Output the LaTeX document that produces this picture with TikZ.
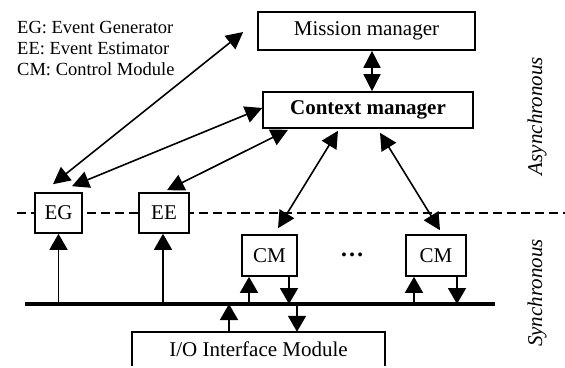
\documentclass[tikz,border=0pt]{standalone}
\usepackage{fontspec}
\setmainfont{Liberation Serif}
\usetikzlibrary{arrows.meta}
\begin{document}
\begin{tikzpicture}[x=1pt,y=-1pt,
  box/.style={draw, line width=1.6pt, fill=white, inner sep=0pt, font=\fontsize{21}{24}\selectfont},
  lbl/.style={inner sep=0pt, font=\fontsize{21}{24}\selectfont},
  leg/.style={inner sep=0pt, anchor=base west, font=\fontsize{18.5}{21}\selectfont},
  side/.style={inner sep=0pt, rotate=90, font=\fontsize{21}{24}\selectfont\itshape},
  tip/.style={-{Triangle[length=16pt,width=18pt]}, line width=1.6pt},
  dbl/.style={{Triangle[length=17pt,width=17pt]}-{Triangle[length=17pt,width=17pt]}, line width=1.6pt},
  dashline/.style={line width=1.6pt, dash pattern=on 9pt off 5pt},
  bus/.style={line width=3.8pt}]
\useasboundingbox (0,0) rectangle (565,367);

% dashed separator and bus
\coordinate (dl) at (17,213);
\coordinate (dr) at (565,213);
\draw[dashline] (dl) -- (dr);
\coordinate (busL) at (25,304);
\coordinate (busR) at (495,304);
\draw[bus] (busL) -- (busR);

% legend
\node[leg] (leg1) at (17,33) {EG: Event Generator};
\node[leg] (leg2) at (17,54) {EE: Event Estimator};
\node[leg] (leg3) at (17,75) {CM: Control Module};

% boxes
\node[box, minimum width=217pt, minimum height=38pt] (mission) at (366.5,31) {Mission manager};
\node[box, minimum width=210pt, minimum height=36pt, font=\fontsize{21}{24}\selectfont\bfseries] (context) at (368,110) {Context manager};
\node[box, minimum width=47pt, minimum height=40pt] (EG) at (58.5,213) {EG};
\node[box, minimum width=50pt, minimum height=40pt] (EE) at (164,213) {EE};
\node[box, minimum width=55pt, minimum height=41pt] (CM1) at (269.5,255.5) {CM};
\node[box, minimum width=60pt, minimum height=41pt] (CM2) at (436,255.5) {CM};
\node[lbl, font=\fontsize{24}{24}\selectfont\bfseries] (dots) at (352,255) {…};
\node[lbl, minimum width=253pt, minimum height=34pt] (io) at (258.5,349) {I/O Interface Module};
\draw[line width=1.6pt] (io.south west) -- (io.north west) -- (io.north east) -- (io.south east);

% side labels
\node[side] (async) at (537,116) {Asynchronous};
\node[side] (sync) at (537,293) {Synchronous};

% mission <-> context
\draw[dbl] ([xshift=5.5pt]mission.south) -- ([xshift=5.5pt]mission.south |- context.north);

% long arrows
\draw[dbl] ([shift={(-5.5,-8)}]EG.north) -- ([shift={(-14,1)}]mission.west);
\draw[dbl] ([shift={(13.5,-6)}]EG.north) -- ([shift={(0,-2)}]context.west);
\draw[dbl] ([shift={(3,-2)}]EE.north) -- ([shift={(-80,1)}]context.south);
\draw[dbl] ([shift={(-30,2)}]context.south) -- ([shift={(8.5,-6)}]CM1.north);
\draw[dbl] ([shift={(12,4)}]context.south) -- ([shift={(4,-4)}]CM2.north);

% bus arrows
\draw[tip] (EG.south |- busL) -- (EG.south);
\draw[tip] ([xshift=-1pt]EE.south |- busL) -- ([xshift=-1pt]EE.south);
\draw[tip] ([xshift=-20.5pt]CM1.south |- busL) -- ([xshift=-20.5pt]CM1.south);
\draw[tip] ([xshift=19.5pt]CM1.south) -- ([xshift=19.5pt]CM1.south |- busL);
\draw[tip] ([xshift=-22pt]CM2.south |- busL) -- ([xshift=-22pt]CM2.south);
\draw[tip] ([xshift=21pt]CM2.south) -- ([xshift=21pt]CM2.south |- busL);
\draw[tip] ([xshift=-29.5pt]io.north) -- ([xshift=-29.5pt]io.north |- busL);
\draw[tip] ([xshift=38.5pt]io.north |- busL) -- ([xshift=38.5pt]io.north);
\end{tikzpicture}
\end{document}
